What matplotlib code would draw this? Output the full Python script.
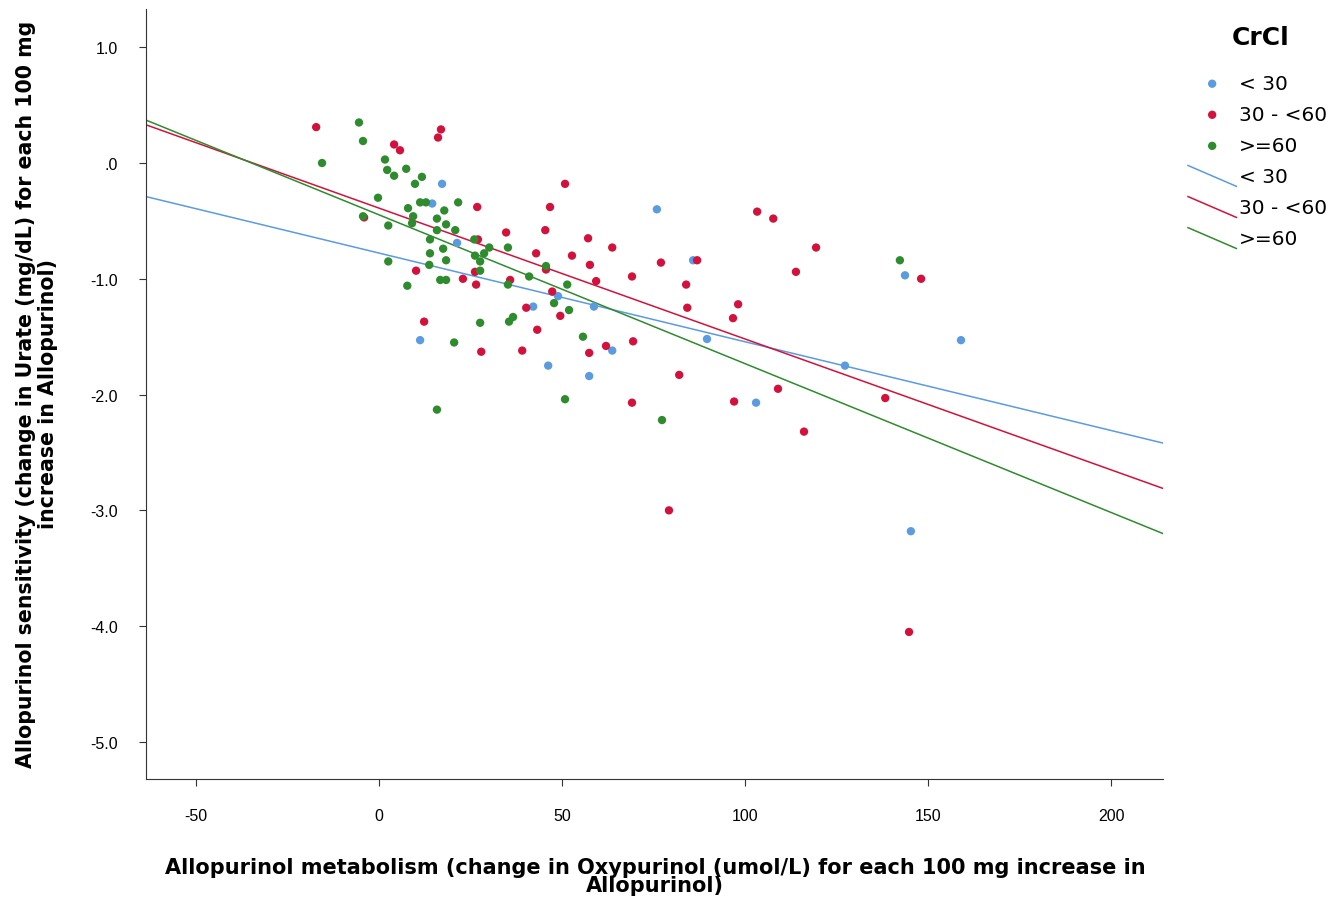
import numpy as np
import matplotlib.pyplot as plt
from matplotlib.legend_handler import HandlerBase
from matplotlib.lines import Line2D

plt.rcParams['font.family'] = ['Liberation Sans', 'DejaVu Sans']
plt.rcParams['axes.unicode_minus'] = False

# CrCl < 30
lt30_x = [17.2, 14.5, 21.3, 11.2, 42.1, 48.9, 58.7, 46.2, 57.4, 63.7,
          75.9, 85.8, 89.6, 103.0, 127.3, 143.7, 159.0, 145.3]
lt30_y = [-0.18, -0.35, -0.69, -1.53, -1.24, -1.15, -1.24, -1.75, -1.84, -1.62,
          -0.40, -0.84, -1.52, -2.07, -1.75, -0.97, -1.53, -3.18]

# CrCl 30 - <60
mid_x = [-17.2, 16.9, 16.1, 4.1, 5.7, -4.1, 26.8, 10.1, 12.3, 34.7,
         27.0, 22.9, 26.2, 26.5, 35.8, 45.4, 57.1, 63.7, 42.9, 52.7,
         57.6, 45.6, 59.3, 47.3, 40.2, 49.5, 43.2, 27.9, 39.1, 57.4,
         62.0, 50.8, 46.7, 69.1, 77.0, 86.9, 83.9, 84.2, 113.9, 98.1,
         96.7, 69.4, 82.0, 69.1, 97.0, 109.0, 103.3, 107.7, 119.4, 116.1,
         138.3, 148.1, 144.8, 79.2]
mid_y = [0.31, 0.29, 0.22, 0.16, 0.11, -0.47, -0.38, -0.93, -1.37, -0.60,
         -0.66, -1.00, -0.94, -1.05, -1.01, -0.58, -0.65, -0.73, -0.78, -0.80,
         -0.88, -0.92, -1.02, -1.11, -1.25, -1.32, -1.44, -1.63, -1.62, -1.64,
         -1.58, -0.18, -0.38, -0.98, -0.86, -0.84, -1.05, -1.25, -0.94, -1.22,
         -1.34, -1.54, -1.83, -2.07, -2.06, -1.95, -0.42, -0.48, -0.73, -2.32,
         -2.03, -1.00, -4.05, -3.00]

# CrCl >=60
ge60_x = [-5.5, -4.4, -15.6, 1.6, 2.2, 4.1, 7.4, 11.7, 9.8, -0.3,
          11.2, 12.8, 21.6, 7.9, 17.8, -4.4, 9.3, 9.0, 15.8, 2.5,
          18.3, 15.8, 20.8, 13.9, 13.9, 17.5, 18.3, 2.5, 13.7, 26.2,
          27.6, 28.7, 30.1, 35.2, 27.6, 7.7, 16.7, 18.3, 35.2, 41.0,
          45.6, 51.4, 47.8, 51.9, 27.6, 35.5, 36.6, 20.5, 55.7, 15.8,
          50.8, 77.3, 142.3, 26.0]
ge60_y = [0.35, 0.19, 0.00, 0.03, -0.06, -0.11, -0.05, -0.12, -0.18, -0.30,
          -0.34, -0.34, -0.34, -0.39, -0.41, -0.46, -0.46, -0.52, -0.48, -0.54,
          -0.53, -0.58, -0.58, -0.66, -0.78, -0.74, -0.84, -0.85, -0.88, -0.80,
          -0.85, -0.78, -0.73, -0.73, -0.93, -1.06, -1.01, -1.01, -1.05, -0.98,
          -0.89, -1.05, -1.21, -1.27, -1.38, -1.37, -1.33, -1.55, -1.50, -2.13,
          -2.04, -2.22, -0.84, -0.66]

# fitted lines (intercept, slope)
fit_lt30 = (-0.778, -0.00766)
fit_mid = (-0.39, -0.0113)
fit_ge60 = (-0.448, -0.01285)

labels = ["< 30", "30 - <60", ">=60"]
colors = ["#5b9be0", "#d2123c", "#2e8b2e"]


class DiagonalLine(HandlerBase):
    def create_artists(self, legend, orig_handle, xdescent, ydescent,
                       width, height, fontsize, trans):
        cy = height / 2 - ydescent - 0.5
        ln = Line2D([-xdescent, width - xdescent], [cy + 7.5, cy - 7.5],
                    color=orig_handle.get_color(), lw=orig_handle.get_linewidth())
        ln.set_transform(trans)
        return [ln]


fig = plt.figure(figsize=(13.43, 9.03), dpi=100)
ax = fig.add_axes([146 / 1343, 1 - 780 / 903, 1017 / 1343, 770 / 903])

groups = [(lt30_x, lt30_y, fit_lt30), (mid_x, mid_y, fit_mid), (ge60_x, ge60_y, fit_ge60)]
pts = []
for (gx, gy, _), c, lab in zip(groups, colors, labels):
    pts.append(ax.scatter(gx, gy, s=36, color=c, edgecolors='none', label=lab, zorder=3))

ax.set_xlim(-63.7, 214.2)
ax.set_ylim(-5.32, 1.33)
xs = np.array(ax.get_xlim())
lines = []
for (_, _, (b, m)), c, lab in zip(groups, colors, labels):
    ln, = ax.plot(xs, b + m * xs, color=c, lw=1.1, label=lab, zorder=2)
    lines.append(ln)

ax.set_xticks([-50, 0, 50, 100, 150, 200])
ax.set_yticks([1, 0, -1, -2, -3, -4, -5])
ax.set_yticklabels(['.0' if v == 0 else f'{v:.1f}' for v in ax.get_yticks()])
ax.tick_params(direction='out', length=5, labelsize=11.5, color='#333333')
ax.tick_params(axis='y', pad=15)
ax.tick_params(axis='x', pad=16)
for side in ['top', 'right']:
    ax.spines[side].set_visible(False)
for side in ['left', 'bottom']:
    ax.spines[side].set_color('#333333')

fig.text(37 / 1343, 1 - 394 / 903,
         "Allopurinol sensitivity (change in Urate (mg/dL) for each 100 mg\nincrease in Allopurinol)",
         rotation=90, ha='center', va='center', multialignment='center',
         family='DejaVu Sans', fontsize=14.8, fontweight='bold', linespacing=1.15)
fig.text(655 / 1343, 1 - 877 / 903,
         "Allopurinol metabolism (change in Oxypurinol (umol/L) for each 100 mg increase in\nAllopurinol)",
         ha='center', va='center', multialignment='center',
         family='DejaVu Sans', fontsize=15, fontweight='bold', linespacing=0.85)

fig.text(1261 / 1343, 1 - 38 / 903, "CrCl", ha='center', va='center',
         family='DejaVu Sans', fontsize=18, fontweight='bold')

handler_map = {ln: DiagonalLine() for ln in lines}
leg = fig.legend(pts + lines, labels + labels, loc='upper left',
                 bbox_to_anchor=(1188 / 1343, 1 - 75 / 903), frameon=False,
                 prop={'family': 'DejaVu Sans', 'size': 14.5},
                 handlelength=2.4, handletextpad=0.15, borderpad=0,
                 labelspacing=0.6, handler_map=handler_map, borderaxespad=0)

fig.savefig("out.png", dpi=100)
